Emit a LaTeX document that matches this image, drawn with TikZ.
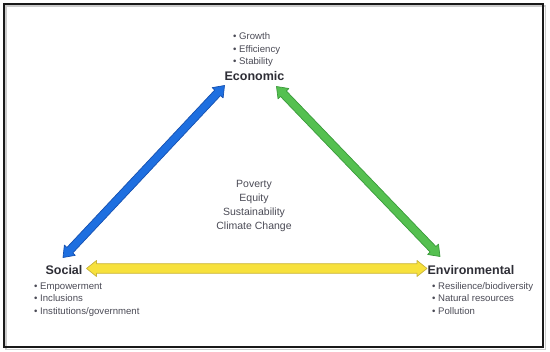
\documentclass[tikz,border=0pt]{standalone}
\usepackage{fontspec}
\setmainfont{Liberation Sans}
\usetikzlibrary{calc}
\definecolor{txt}{HTML}{4A4A55}
\definecolor{head}{HTML}{2E2E36}
\definecolor{bluef}{HTML}{1E6FE0}
\definecolor{bluel}{HTML}{1550B0}
\definecolor{greenf}{HTML}{55C050}
\definecolor{greenl}{HTML}{3A9A3A}
\definecolor{yelf}{HTML}{F7E13C}
\definecolor{yell}{HTML}{C9B43A}
\newcommand\fatarrow[6]{%
 \coordinate (fa1) at ($(#1)!#5!(#2)$);
 \coordinate (fa2) at ($(#2)!#5!(#1)$);
 \path[#6] (#1) -- ($(fa1)!#4!90:(#2)$) -- ($(fa1)!#3!90:(#2)$) -- ($(fa2)!#3!-90:(#1)$) -- ($(fa2)!#4!-90:(#1)$) -- (#2) -- ($(fa2)!#4!90:(#1)$) -- ($(fa2)!#3!90:(#1)$) -- ($(fa1)!#3!-90:(#2)$) -- ($(fa1)!#4!-90:(#2)$) -- cycle;}
\tikzset{
  heading/.style={font=\fontsize{12.5}{14}\selectfont\bfseries, text=head, inner sep=0pt},
  bullets/.style={font=\fontsize{9.6}{12.5}\selectfont, text=txt, align=left, inner sep=0pt, anchor=west},
  centre/.style={font=\fontsize{10.5}{13.8}\selectfont, text=txt, align=center, inner sep=0pt},
  fat/.style={line width=0.7pt, line join=round},
}
\begin{document}
\begin{tikzpicture}[x=1pt,y=-1pt]
\useasboundingbox (0,0) rectangle (550,352);
\draw[gray!40, line width=1.2pt] (6,6) rectangle (545.5,349.5);
\draw[black!90, line width=1.6pt] (4,4) rectangle (543,347);
% nodes
\node[heading] (eco) at (254.5,76) {Economic};
\node[bullets] (ecob) at (233,50) {• Growth\\• Efficiency\\• Stability};
\node[heading] (soc) at (64,270) {Social};
\node[bullets] (socb) at (34,299.5) {• Empowerment\\• Inclusions\\• Institutions/government};
\node[heading] (env) at (471,270) {Environmental};
\node[bullets] (envb) at (432,298.5) {• Resilience/biodiversity\\• Natural resources\\• Pollution};
\node[centre] (mid) at (254,206) {Poverty\\Equity\\Sustainability\\Climate Change};
% arrow ends
\coordinate (bS) at (63,257.5);
\coordinate (bE) at (224.5,85.5);
\coordinate (gE) at (276.5,86.5);
\coordinate (gV) at (440,256.5);
\coordinate (yS) at (86.5,268.5);
\coordinate (yV) at (427,268.5);
\fatarrow{bS}{bE}{4pt}{7.5pt}{10pt}{fat, fill=bluef, draw=bluel}
\fatarrow{gE}{gV}{4pt}{7.5pt}{10pt}{fat, fill=greenf, draw=greenl}
\fatarrow{yS}{yV}{4.8pt}{8pt}{10pt}{fat, fill=yelf, draw=yell}
\end{tikzpicture}
\end{document}
